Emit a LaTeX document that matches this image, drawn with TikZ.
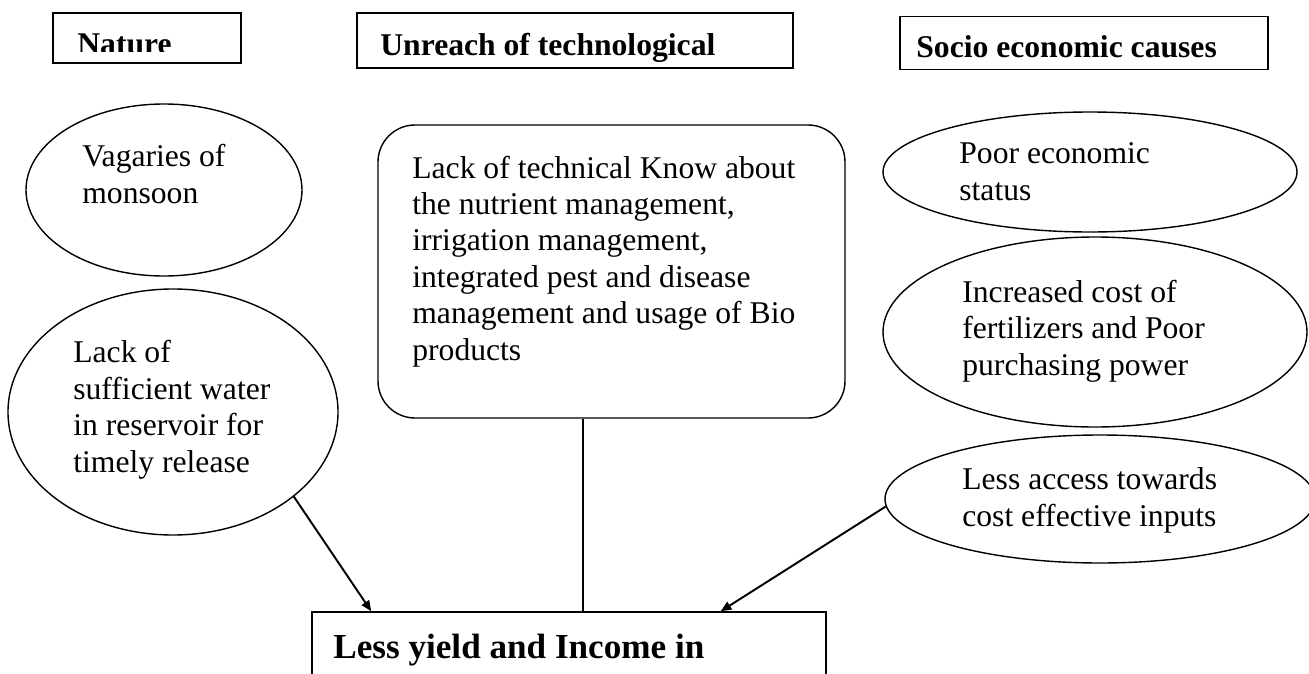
\documentclass[tikz,border=0pt]{standalone}
\usepackage{fontspec}
\setmainfont{Liberation Serif}
\usetikzlibrary{shapes.geometric, arrows.meta}

\tikzset{
    body/.style={font=\fontsize{18}{20.7}\selectfont, align=left, inner sep=0pt, anchor=base west},
    headtext/.style={font=\bfseries\fontsize{18}{20.7}\selectfont, inner sep=0pt, anchor=base west},
    headbox/.style={draw, rectangle, line width=0.9pt, inner sep=0pt},
    cause/.style={draw, ellipse, line width=0.8pt, inner sep=0pt},
    link/.style={line width=1.1pt},
    arr/.style={link, -{Triangle[length=6pt,width=5pt]}}
}

\begin{document}
\begin{tikzpicture}
            % page frame
            \useasboundingbox (0,0) rectangle (26.18,-13.48);
            \clip (0,0) rectangle (26.18,-13.48);

            % heading boxes
            \node[headbox, minimum width=3.76cm, minimum height=1cm] (nature) at (2.94,-0.76) {};
            \node[headbox, minimum width=8.72cm, minimum height=1.1cm] (unreach) at (11.5,-0.81) {};
            \node[headbox, minimum width=7.36cm, minimum height=1.06cm] (socio) at (21.68,-0.86) {};

            % headings (cut at the bottom, as in the text boxes)
            \begin{scope}
                \clip (nature.north west) rectangle ([yshift=0.24cm]nature.south east);
                \node[headtext] (naturetxt) at (1.54,-1.08) {Nature};
            \end{scope}
            \begin{scope}
                \clip (unreach.north west) rectangle ([yshift=0.15cm]unreach.south east);
                \node[headtext] (unreachtxt) at (7.6,-1.1) {Unreach of technological};
            \end{scope}
            \node[headtext] (sociotxt) at (18.32,-1.14) {Socio economic causes};

            % nature side (text nodes are placed by their last line)
            \node[cause, minimum width=5.52cm, minimum height=3.44cm] (monsoon) at (3.28,-3.8) {};
            \node[body] (monsoontxt) at (1.64,-4.06) {Vagaries of\\monsoon};

            \node[cause, minimum width=6.6cm, minimum height=4.92cm] (water) at (3.46,-8.24) {};
            \node[body] (watertxt) at (1.46,-9.44) {Lack of\\sufficient water\\in reservoir for\\timely release};

            % technology
            \node[draw, rectangle, rounded corners=0.74cm, line width=0.8pt,
                minimum width=9.34cm, minimum height=5.86cm] (tech) at (12.23,-5.43) {};
            \node[body] (techtxt) at (8.24,-7.2) {Lack of technical Know about\\the nutrient management,\\irrigation management,\\integrated pest and disease\\management and usage of Bio\\products};

            % socio economic side
            \node[cause, minimum width=8.28cm, minimum height=2.4cm] (poor) at (21.8,-3.44) {};
            \node[body] (poortxt) at (19.18,-4.0) {Poor economic\\status};

            \node[cause, minimum width=8.48cm, minimum height=3.8cm] (cost) at (21.9,-6.64) {};
            \node[body] (costtxt) at (19.24,-7.5) {Increased cost of\\fertilizers and Poor\\purchasing power};

            \node[cause, minimum width=8.6cm, minimum height=2.56cm] (access) at (22.0,-9.98) {};
            \node[body] (accesstxt) at (19.24,-10.52) {Less access towards\\cost effective inputs};

            % result
            \node[headbox, minimum width=10.28cm, minimum height=2.16cm] (yield) at (11.38,-13.32) {};
            \node[headtext, font=\bfseries\fontsize{20}{23}\selectfont] (yieldtxt) at (6.66,-13.16) {Less yield and Income in};

            % links
            \draw[arr] (water.-35) -- ([xshift=1.2cm]yield.north west);
            \draw[link] ([xshift=-0.57cm]tech.south) -- ([xshift=-0.57cm]tech.south |- yield.north);
            \draw[arr] (access.182) -- ([xshift=-2.12cm]yield.north east);

        \end{tikzpicture}
\end{document}
